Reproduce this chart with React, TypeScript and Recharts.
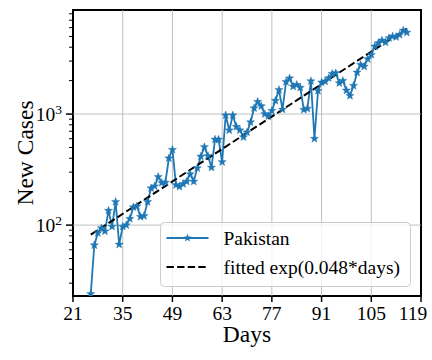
import React from 'react';
import { LineChart, Line, XAxis, YAxis, ReferenceLine, ReferenceArea, Legend } from 'recharts';

const days = [
  26, 27, 28, 29, 30, 31, 32, 33, 34, 35, 36, 37, 38, 39, 40, 41, 42, 43, 44, 45,
  46, 47, 48, 49, 50, 51, 52, 53, 54, 55, 56, 57, 58, 59, 60, 61, 62, 63, 64, 65,
  66, 67, 68, 69, 70, 71, 72, 73, 74, 75, 76, 77, 78, 79, 80, 81, 82, 83, 84, 85,
  86, 87, 88, 89, 90, 91, 92, 93, 94, 95, 96, 97, 98, 99, 100, 101, 102, 103, 104, 105,
  106, 107, 108, 109, 110, 111, 112, 113, 114, 115,
];
const pakistan = [
  24, 66, 85, 94, 88, 135, 97, 162, 67, 97, 100, 114, 145, 148, 119, 121, 162, 215, 224, 272,
  240, 242, 400, 477, 230, 222, 235, 247, 288, 247, 326, 415, 505, 420, 330, 590, 590, 370, 975, 715,
  975, 770, 715, 620, 685, 845, 1130, 1290, 1180, 1000, 960, 1070, 1320, 1650, 1100, 1950, 2100, 1770, 1835, 1730,
  1094, 1120, 1980, 600, 1620, 1930, 1968, 2110, 2307, 2340, 1901, 1995, 1633, 1462, 1800, 2370, 2780, 2686, 3128, 3420,
  4064, 4363, 4605, 4420, 4842, 5010, 4943, 5180, 5660, 5430,
];
const fitDays = [26, 115];
const fitValues = [82, 5890];
const xTicks = [21, 35, 49, 63, 77, 91, 105, 119];
const yTicks = [
  30, 40, 50, 60, 70, 80, 90, 100, 200, 300, 400, 500, 600, 700, 800, 900,
  1000, 2000, 3000, 4000, 5000, 6000, 7000, 8000,
];
const yMajor = [100, 1000];
const xGrid = [35, 49, 63, 77, 91, 105];

const seriesData = days.map((d, i) => ({ day: d, cases: pakistan[i] }));
const fitData = fitDays.map((d, i) => ({ day: d, fit: fitValues[i] }));

const BLUE = '#1f77b4';
const FONT = "'Liberation Serif', 'Times New Roman', serif";
const serif = { fontFamily: FONT };

function starPoints(cx: number, cy: number, ro: number, ri: number) {
  const pts: string[] = [];
  for (let i = 0; i < 10; i++) {
    const r = i % 2 === 0 ? ro : ri;
    const a = -Math.PI / 2 + (i * Math.PI) / 5;
    pts.push(`${(cx + r * Math.cos(a)).toFixed(2)},${(cy + r * Math.sin(a)).toFixed(2)}`);
  }
  return pts.join(' ');
}

const StarDot = (props: any) => {
  const { cx, cy, index } = props;
  if (cx == null || cy == null) return <g key={`s-${index}`} />;
  return <polygon key={`s-${index}`} points={starPoints(cx, cy, 4.3, 1.8)} fill={BLUE} stroke={BLUE} strokeWidth={0.4} />;
};

const YTick = (props: any) => {
  const { x, y, payload } = props;
  const v = payload.value;
  const major = yMajor.includes(v);
  const exp = Math.round(Math.log10(v));
  return (
    <g>
      <line x1={x - (major ? 7 : 4)} x2={x} y1={y} y2={y} stroke="#000" strokeWidth={major ? 1.5 : 1} />
      {major && (
        <text x={x - 11} y={y + 6.5} textAnchor="end" fontSize={19.5} fill="#000" style={serif}>
          10<tspan dy={-7} fontSize={13.5}>{exp}</tspan>
        </text>
      )}
    </g>
  );
};

const XTick = (props: any) => {
  const { x, y, payload } = props;
  const last = payload.value === xTicks[xTicks.length - 1];
  return (
    <g>
      <line x1={x} x2={x} y1={y} y2={y + 6} stroke="#000" strokeWidth={1.5} />
      <text x={last ? x - 8 : x} y={y + 24} textAnchor="middle" fontSize={19.5} fill="#000" style={serif}>
        {payload.value}
      </text>
    </g>
  );
};

const LegendBox = () => (
  <svg width={252} height={66} style={{ display: 'block', overflow: 'visible', fontFamily: FONT }}>
    <rect x={0.5} y={0.5} width={250} height={64} rx={4} ry={4} fill="rgba(255,255,255,0.8)" stroke="#cccccc" strokeWidth={1} />
    <line x1={6.5} x2={48.5} y1={16} y2={16} stroke={BLUE} strokeWidth={2} />
    <polygon points={starPoints(27.5, 16, 4.3, 1.8)} fill={BLUE} />
    <text x={63.5} y={22.5} fontSize={19.5} style={serif} fill="#000">Pakistan</text>
    <line x1={6.5} x2={48.5} y1={45} y2={45} stroke="#000" strokeWidth={2} strokeDasharray="7.4 3.2" />
    <text x={63.5} y={51.5} fontSize={19.5} style={serif} fill="#000">fitted exp(0.048*days)</text>
  </svg>
);

export default function App() {
  return (
    <div style={{ position: 'absolute', left: 0, top: 0, width: 432, height: 360, background: '#fff' }}>
      <LineChart width={432} height={360} margin={{ top: 10, right: 11, bottom: 0, left: 0 }} style={serif}>
        <XAxis
          dataKey="day"
          type="number"
          domain={[21, 119]}
          ticks={xTicks}
          allowDataOverflow
          height={64}
          axisLine={false}
          tickLine={false}
          tickSize={0}
          tickMargin={0}
          tick={<XTick />}
          interval={0}
          label={{
            value: 'Days',
            content: () => (
              <text x={247} y={342} textAnchor="middle" fontSize={23.5} style={serif} fill="#000">Days</text>
            ),
          }}
        />
        <YAxis
          type="number"
          scale="log"
          domain={[23, 8650]}
          ticks={yTicks}
          allowDataOverflow
          width={73}
          axisLine={false}
          tickLine={false}
          tickSize={0}
          tickMargin={0}
          tick={<YTick />}
          interval={0}
          label={{
            value: 'New Cases',
            content: () => (
              <text transform="translate(32.5,153) rotate(-90)" textAnchor="middle" fontSize={23.5} style={serif} fill="#000">
                New Cases
              </text>
            ),
          }}
        />
        {xGrid.map((g) => (
          <ReferenceLine key={`gx-${g}`} x={g} stroke="#b0b0b0" strokeWidth={0.8} />
        ))}
        {yMajor.map((g) => (
          <ReferenceLine key={`gy-${g}`} y={g} stroke="#b0b0b0" strokeWidth={0.8} />
        ))}
        <Line
          data={seriesData}
          dataKey="cases"
          name="Pakistan"
          stroke={BLUE}
          strokeWidth={1.8}
          dot={StarDot}
          activeDot={false}
          isAnimationActive={false}
        />
        <Line
          data={fitData}
          dataKey="fit"
          name="fitted exp(0.048*days)"
          stroke="#000"
          strokeWidth={2}
          strokeDasharray="7.4 3.2"
          dot={false}
          activeDot={false}
          isAnimationActive={false}
        />
        <ReferenceArea x1={21} x2={119} y1={23} y2={8650} fill="none" stroke="#000" strokeWidth={2} fillOpacity={0} />
        <Legend
          layout="horizontal"
          verticalAlign="middle"
          align="center"
          content={() => <LegendBox />}
          wrapperStyle={{ position: 'absolute', left: 160, top: 222, width: 252, height: 66 }}
        />
      </LineChart>
    </div>
  );
}
